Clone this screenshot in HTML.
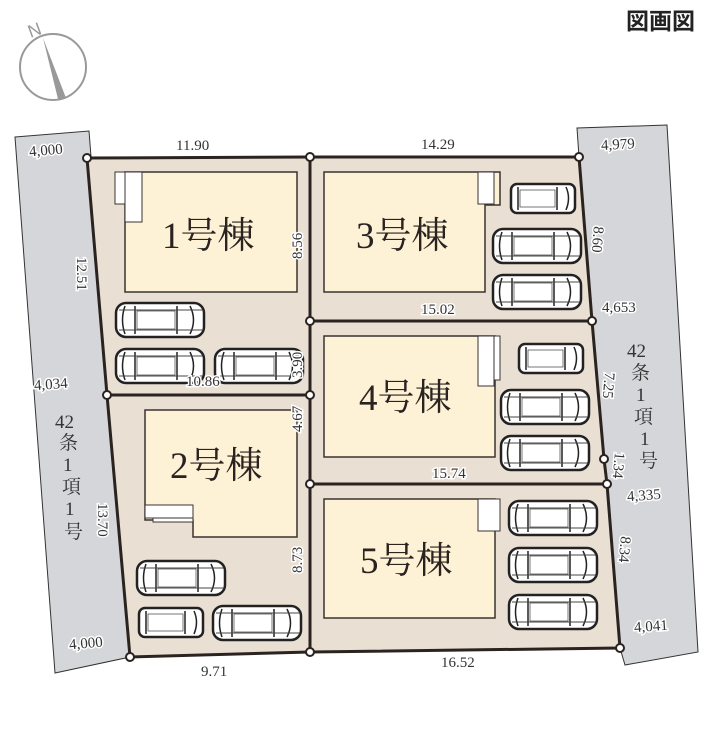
<!DOCTYPE html>
<html><head><meta charset="utf-8"><style>
html,body{margin:0;padding:0;background:#fff;}
svg{display:block;}
text{font-family:"Liberation Serif","Noto Serif CJK SC",serif;fill:#333;}
.d{font-size:15px;paint-order:stroke;stroke:#fff;stroke-width:3px;}
.b{font-size:37px;fill:#2a2320;}
.r{font-size:19px;fill:#333;}
</style></head><body>
<svg width="715" height="733" viewBox="0 0 715 733" xmlns="http://www.w3.org/2000/svg">
<defs>
<g id="car">
<rect x="1" y="1" width="88" height="34" rx="10" fill="#fff" stroke="#222" stroke-width="2.5"/>
<path d="M10,4 Q5,18 10,32 M20,4 L20,32 M62,4 L62,32 M75,4 Q82,18 75,32" fill="none" stroke="#222" stroke-width="1.5"/>
<path d="M4,8 L88,8 M4,28 L88,28" fill="none" stroke="#444" stroke-width="1"/>
<rect x="22" y="9" width="38" height="18" fill="#fff" stroke="#555" stroke-width="0.8"/>
</g>
<g id="car2">
<rect x="1" y="1" width="64" height="29" rx="6" fill="#fff" stroke="#222" stroke-width="2.5"/>
<path d="M8,4 L8,27 M47,4 L47,27 M56,4 Q61,15 56,27" fill="none" stroke="#222" stroke-width="1.5"/>
<rect x="10" y="7" width="35" height="17" fill="#fff" stroke="#555" stroke-width="0.8"/>
</g>
</defs>
<circle cx="53" cy="67" r="33" fill="none" stroke="#999" stroke-width="2"/>
<path d="M43,38 L66,98 L58,99 Z" fill="#999"/>
<text x="28" y="36" style="font-family:'Liberation Sans',sans-serif;font-size:18px;fill:#999" transform="rotate(-20 35 30)">N</text>
<text x="626" y="29" style="font-family:'Liberation Sans','Noto Sans CJK JP',sans-serif;font-size:23px;font-weight:bold;fill:#222">図画図</text>
<polygon points="15,137 89,131 130,657 55,673" fill="#d5d6d9" stroke="#333" stroke-width="1"/>
<polygon points="577,128 667,125 698,652 625,665 620,648 579,157" fill="#d5d6d9" stroke="#333" stroke-width="1"/>
<polygon points="87,158 310,157 579,157 592,321 604,459 607,484 620,648 310,652 130,657 107,395" fill="#eadfd3" stroke="#2a2320" stroke-width="3"/>
<g stroke="#2a2320" stroke-width="3" fill="none">
<line x1="310" y1="157" x2="310" y2="652"/>
<line x1="107" y1="395" x2="310" y2="395"/>
<line x1="310" y1="321" x2="592" y2="321"/>
<line x1="310" y1="484" x2="607" y2="484"/>
</g>
<g fill="#fdf1d6" stroke="#3a3330" stroke-width="1.5">
<rect x="125" y="172" width="172" height="120"/>
<polygon points="145,410 297,410 297,537 193,537 193,520 145,520"/>
<polygon points="324,172 500,172 500,205 485,205 485,292 324,292"/>
<rect x="324" y="336" width="171" height="121"/>
<rect x="324" y="499" width="171" height="119"/>
</g>
<g fill="#fff" stroke="#3a3330" stroke-width="1">
<rect x="115" y="172" width="10" height="32"/><rect x="125" y="172" width="17" height="50"/>
<rect x="153" y="510" width="40" height="12"/><rect x="145" y="505" width="48" height="13"/>
<rect x="478" y="172" width="16" height="32"/>
<rect x="478" y="336" width="22" height="44"/><rect x="478" y="336" width="16" height="50"/>
<rect x="478" y="499" width="22" height="32"/>
</g>
<use href="#car" x="115" y="302"/>
<use href="#car" x="115" y="348"/>
<use href="#car" x="214" y="348"/>
<use href="#car" x="136" y="560"/>
<use href="#car2" x="138" y="607"/>
<use href="#car" x="212" y="605"/>
<use href="#car2" x="510" y="183"/>
<use href="#car" x="492" y="228"/>
<use href="#car" x="492" y="274"/>
<use href="#car2" x="518" y="343"/>
<use href="#car" x="500" y="389"/>
<use href="#car" x="500" y="435"/>
<use href="#car" x="508" y="500"/>
<use href="#car" x="508" y="547"/>
<use href="#car" x="508" y="594"/>
<g fill="#fff" stroke="#2a2320" stroke-width="2">
<circle cx="87" cy="158" r="4"/><circle cx="310" cy="157" r="4"/><circle cx="579" cy="157" r="4"/>
<circle cx="310" cy="321" r="4"/><circle cx="592" cy="321" r="4"/>
<circle cx="107" cy="395" r="4"/><circle cx="310" cy="395" r="4"/>
<circle cx="604" cy="459" r="4"/><circle cx="310" cy="484" r="4"/><circle cx="607" cy="484" r="4"/>
<circle cx="130" cy="657" r="4"/><circle cx="310" cy="652" r="4"/><circle cx="620" cy="648" r="4"/>
</g>
<text class="b" x="162" y="248">1号棟</text>
<text class="b" x="170" y="478">2号棟</text>
<text class="b" x="356" y="248">3号棟</text>
<text class="b" x="359" y="410">4号棟</text>
<text class="b" x="360" y="573">5号棟</text>
<text x="176" y="150" class="d">11.90</text>
<text x="421" y="149" class="d">14.29</text>
<text x="29" y="155" class="d" transform="rotate(-5 45 150)">4,000</text>
<text x="601" y="149" class="d" transform="rotate(-3 620 145)">4,979</text>
<text x="602" y="312" class="d">4,653</text>
<text x="421" y="314" class="d">15.02</text>
<text x="34" y="389" class="d" transform="rotate(-4 50 385)">4,034</text>
<text x="186" y="386" class="d">10.86</text>
<text x="432" y="478" class="d">15.74</text>
<text x="627" y="500" class="d" transform="rotate(-4 645 495)">4,335</text>
<text x="69" y="648" class="d" transform="rotate(-5 85 643)">4,000</text>
<text x="201" y="676" class="d">9.71</text>
<text x="441" y="667" class="d">16.52</text>
<text x="634" y="631" class="d" transform="rotate(-4 650 626)">4,041</text>
<text class="d" transform="translate(302 259) rotate(-90)">8.56</text>
<text class="d" transform="translate(302 378) rotate(-90)">3.90</text>
<text class="d" transform="translate(302 432) rotate(-90)">4.67</text>
<text class="d" transform="translate(302 573) rotate(-90)">8.73</text>
<text class="d" transform="translate(77 257) rotate(90)">12.51</text>
<text class="d" transform="translate(98 503) rotate(90)">13.70</text>
<text class="d" transform="translate(594 226) rotate(95)">8.60</text>
<text class="d" transform="translate(605 372) rotate(95)">7.25</text>
<text class="d" transform="translate(615 452) rotate(95)">1.34</text>
<text class="d" transform="translate(621 536) rotate(95)">8.34</text>
<text class="r" x="55" y="428">42</text>
<text class="r" x="59" y="449">条</text>
<text class="r" x="63" y="471">1</text>
<text class="r" x="62" y="493">項</text>
<text class="r" x="65" y="515">1</text>
<text class="r" x="64" y="538">号</text>
<text class="r" x="627" y="357">42</text>
<text class="r" x="631" y="379">条</text>
<text class="r" x="636" y="401">1</text>
<text class="r" x="634" y="423">項</text>
<text class="r" x="640" y="445">1</text>
<text class="r" x="639" y="467">号</text>
</svg>
</body></html>
